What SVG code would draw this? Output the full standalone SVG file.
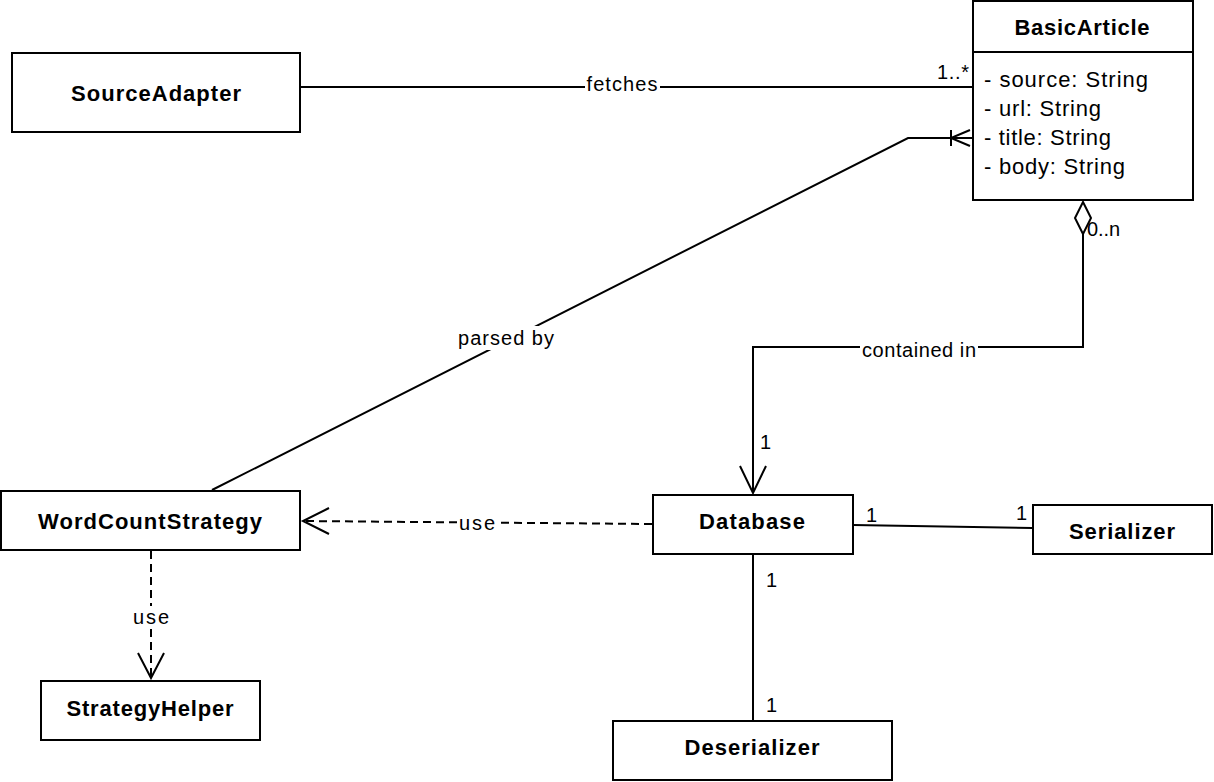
<svg xmlns="http://www.w3.org/2000/svg" width="1214" height="782" viewBox="0 0 1214 782">
<style>
.box{fill:#fff;stroke:#000;stroke-width:2}
.name{font-family:"Liberation Sans",Arial,sans-serif;font-weight:bold;font-size:22px;text-anchor:middle;fill:#000}
.attr{font-family:"Liberation Sans",Arial,sans-serif;font-size:22px;fill:#000}
.lbl{font-family:"Liberation Sans",Arial,sans-serif;font-size:20px;fill:#000}
.mid{text-anchor:middle}
.ln{fill:none;stroke:#000;stroke-width:2}
.dash{fill:none;stroke:#000;stroke-width:2;stroke-dasharray:8 5}
.bg{fill:#fff;stroke:none}
</style>
<rect width="1214" height="782" fill="#fff"/>
<g id="connectors">
  <line class="ln" x1="300" y1="87" x2="972" y2="87"/>
  <polyline class="ln" points="212,490 908,138 972,138"/>
  <line class="ln" x1="951" y1="130" x2="951" y2="146"/>
  <polyline class="ln" points="970,130 951,138 970,146"/>
  <polyline class="ln" points="1083,233 1083,347 753,347 753,493"/>
  <polygon class="ln" points="1083,202 1091,218 1083,234 1075,218" style="fill:#fff"/>
  <polyline class="ln" points="740,466 753,493 766,466"/>
  <line class="dash" x1="652" y1="524" x2="303" y2="521"/>
  <polyline class="ln" points="329,508 303,521 329,534"/>
  <line class="dash" x1="151" y1="551" x2="151" y2="678"/>
  <polyline class="ln" points="138,653 151,678 164,653"/>
  <line class="ln" x1="853" y1="525" x2="1032" y2="528"/>
  <line class="ln" x1="753" y1="555" x2="753" y2="720"/>

  <rect class="bg" x="585" y="74" width="75" height="22"/>
  <text class="lbl mid" x="622" y="91" textLength="71" lengthAdjust="spacing">fetches</text>
  <text class="lbl" x="937" y="79" textLength="32" lengthAdjust="spacing">1..*</text>
  <rect class="bg" x="456" y="326" width="100" height="24"/>
  <text class="lbl mid" x="506" y="345" textLength="96" lengthAdjust="spacing">parsed by</text>
  <rect class="bg" x="860" y="338" width="118" height="22"/>
  <text class="lbl mid" x="919" y="357" textLength="114" lengthAdjust="spacing">contained in</text>
  <text class="lbl" x="1087" y="236" textLength="33" lengthAdjust="spacing">0..n</text>
  <text class="lbl" x="760" y="449">1</text>
  <rect class="bg" x="457" y="512" width="40" height="22"/>
  <text class="lbl mid" x="477" y="530" textLength="36" lengthAdjust="spacing">use</text>
  <rect class="bg" x="131" y="606" width="40" height="22"/>
  <text class="lbl mid" x="151" y="624" textLength="36" lengthAdjust="spacing">use</text>
  <text class="lbl" x="866" y="522">1</text>
  <text class="lbl" x="1016" y="520">1</text>
  <text class="lbl" x="766" y="587">1</text>
  <text class="lbl" x="766" y="712">1</text>
</g>
<g id="SourceAdapter">
  <rect class="box" x="12" y="53" width="288" height="79"/>
  <text class="name" x="156" y="101" textLength="170" lengthAdjust="spacing">SourceAdapter</text>
</g>
<g id="BasicArticle">
  <rect class="box" x="973" y="1" width="220" height="199"/>
  <line class="ln" x1="973" y1="52" x2="1193" y2="52"/>
  <text class="name" x="1082" y="35" textLength="135" lengthAdjust="spacing">BasicArticle</text>
  <text class="attr" x="984" y="87" textLength="164" lengthAdjust="spacing">- source: String</text>
  <text class="attr" x="984" y="116" textLength="117" lengthAdjust="spacing">- url: String</text>
  <text class="attr" x="984" y="145" textLength="127" lengthAdjust="spacing">- title: String</text>
  <text class="attr" x="984" y="174" textLength="141" lengthAdjust="spacing">- body: String</text>
</g>
<g id="WordCountStrategy">
  <rect class="box" x="1" y="491" width="299" height="59"/>
  <text class="name" x="150" y="529" textLength="224" lengthAdjust="spacing">WordCountStrategy</text>
</g>
<g id="StrategyHelper">
  <rect class="box" x="41" y="681" width="219" height="59"/>
  <text class="name" x="150" y="716" textLength="167" lengthAdjust="spacing">StrategyHelper</text>
</g>
<g id="Database">
  <rect class="box" x="653" y="495" width="200" height="59"/>
  <text class="name" x="752" y="529" textLength="106" lengthAdjust="spacing">Database</text>
</g>
<g id="Serializer">
  <rect class="box" x="1033" y="505" width="179" height="49"/>
  <text class="name" x="1122" y="539" textLength="106" lengthAdjust="spacing">Serializer</text>
</g>
<g id="Deserializer">
  <rect class="box" x="613" y="721" width="279" height="59"/>
  <text class="name" x="752" y="755" textLength="135" lengthAdjust="spacing">Deserializer</text>
</g>
</svg>
